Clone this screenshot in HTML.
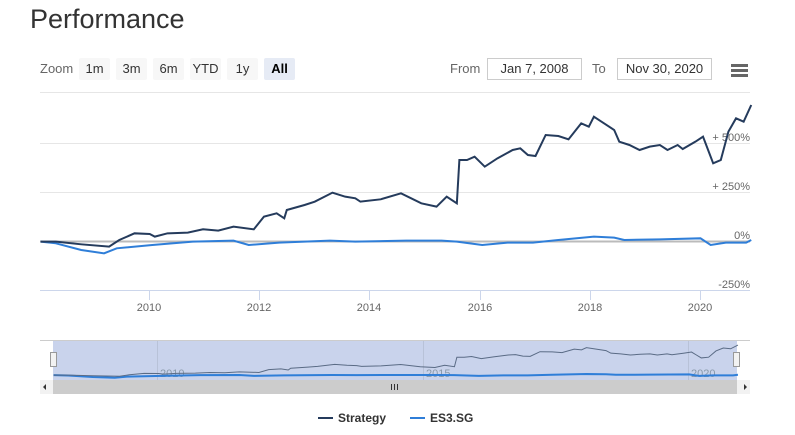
<!DOCTYPE html>
<html><head><meta charset="utf-8"><style>
body{margin:0;width:795px;height:435px;background:#fff;font-family:"Liberation Sans",sans-serif;overflow:hidden;position:relative}
.t{position:absolute;left:30px;top:4px;font-size:27px;color:#333}
.b{position:absolute;top:58px;height:22px;line-height:22px;font-size:13px;color:#333;background:#f7f7f7;text-align:center;border-radius:2px}
.lab{position:absolute;top:58px;line-height:22px;font-size:13px;color:#666}
.inp{position:absolute;top:58px;height:20px;line-height:20px;border:1px solid #ccc;font-size:13px;color:#333;text-align:center}
</style></head><body>
<div class="t">Performance</div>
<div class="lab" style="left:40px">Zoom</div>
<div class="b" style="left:79px;width:31px">1m</div>
<div class="b" style="left:116px;width:31px">3m</div>
<div class="b" style="left:153px;width:31px">6m</div>
<div class="b" style="left:190px;width:31px">YTD</div>
<div class="b" style="left:227px;width:31px">1y</div>
<div class="b" style="left:264px;width:31px;background:#e6ebf5;font-weight:bold;color:#000">All</div>
<div class="lab" style="left:450px">From</div>
<div class="inp" style="left:487px;width:93px">Jan 7, 2008</div>
<div class="lab" style="left:592px">To</div>
<div class="inp" style="left:617px;width:93px">Nov 30, 2020</div>
<svg width="795" height="435" style="position:absolute;left:0;top:0">
<g fill="#666"><rect x="731" y="64" width="17" height="3"/><rect x="731" y="69" width="17" height="3"/><rect x="731" y="74" width="17" height="3"/></g>
<g stroke="#e6e6e6" stroke-width="1">
<line x1="40" x2="750" y1="92.5" y2="92.5"/><line x1="40" x2="750" y1="143.5" y2="143.5"/><line x1="40" x2="750" y1="192.5" y2="192.5"/>
</g>
<line x1="40" x2="750" y1="241.5" y2="241.5" stroke="#bbb" stroke-width="2"/>
<line x1="40" x2="750" y1="290.5" y2="290.5" stroke="#ccd6eb"/>
<g stroke="#ccd6eb"><line x1="149.5" x2="149.5" y1="290" y2="300"/><line x1="259.5" x2="259.5" y1="290" y2="300"/><line x1="369.5" x2="369.5" y1="290" y2="300"/><line x1="480.5" x2="480.5" y1="290" y2="300"/><line x1="590.5" x2="590.5" y1="290" y2="300"/><line x1="700.5" x2="700.5" y1="290" y2="300"/></g>
<g font-size="11" fill="#666" text-anchor="middle"><text x="149" y="311">2010</text><text x="259" y="311">2012</text><text x="369" y="311">2014</text><text x="480" y="311">2016</text><text x="590" y="311">2018</text><text x="700" y="311">2020</text></g>
<g font-size="11" fill="#666" text-anchor="end"><text x="750" y="141">+ 500%</text><text x="750" y="190">+ 250%</text><text x="750" y="239">0%</text><text x="750" y="288">-250%</text></g>
<g transform="translate(0,50) scale(0.5076,0.3333)" fill="none">
<path stroke="#2f7ed8" stroke-width="2" vector-effect="non-scaling-stroke" d="M80,575 L110,580 160,600 205,610 230,595 300,585 380,575 460,572 490,585 550,578 650,572 700,575 800,572 870,572 900,575 950,585 1000,578 1050,578 1100,570 1170,560 1210,563 1230,570 1300,568 1380,565 1400,585 1430,578 1470,578 1480,570"/>
<path stroke="#253b5c" stroke-width="2" vector-effect="non-scaling-stroke" d="M80,575 L110,575 160,583 215,590 235,570 265,550 295,552 305,560 330,550 370,548 400,538 430,542 460,530 500,538 520,500 545,490 560,505 565,480 600,465 620,455 655,428 680,440 700,445 710,455 750,448 790,430 830,460 860,470 880,440 900,460 905,330 920,330 935,320 955,350 980,325 1010,300 1025,295 1040,315 1055,318 1075,255 1100,258 1120,268 1145,220 1160,230 1170,200 1185,215 1210,240 1220,275 1240,285 1260,300 1280,290 1300,285 1315,300 1335,285 1345,297 1370,275 1385,260 1395,300 1405,340 1420,330 1435,245 1450,205 1465,215 1480,165"/>
</g>
<line x1="40" x2="750" y1="340.5" y2="340.5" stroke="#ccc"/>
<rect x="53" y="341" width="684" height="39" fill="#c9d3ec"/>
<g stroke="#b8c2d8"><line x1="157.5" x2="157.5" y1="341" y2="380"/><line x1="423.5" x2="423.5" y1="341" y2="380"/><line x1="688.5" x2="688.5" y1="341" y2="380"/></g>
<g font-size="11" fill="#8899aa"><text x="160" y="377">2010</text><text x="426" y="377">2015</text><text x="691" y="377">2020</text></g>
<g transform="translate(14.5,322) scale(0.963,0.22)">
<g transform="translate(0,50) scale(0.5076,0.3333)" fill="none">
<path stroke="#2f7ed8" stroke-width="2" vector-effect="non-scaling-stroke" d="M80,575 L110,580 160,600 205,610 230,595 300,585 380,575 460,572 490,585 550,578 650,572 700,575 800,572 870,572 900,575 950,585 1000,578 1050,578 1100,570 1170,560 1210,563 1230,570 1300,568 1380,565 1400,585 1430,578 1470,578 1480,570"/>
<path stroke="#5a6b85" stroke-width="1" vector-effect="non-scaling-stroke" d="M80,575 L110,575 160,583 215,590 235,570 265,550 295,552 305,560 330,550 370,548 400,538 430,542 460,530 500,538 520,500 545,490 560,505 565,480 600,465 620,455 655,428 680,440 700,445 710,455 750,448 790,430 830,460 860,470 880,440 900,460 905,330 920,330 935,320 955,350 980,325 1010,300 1025,295 1040,315 1055,318 1075,255 1100,258 1120,268 1145,220 1160,230 1170,200 1185,215 1210,240 1220,275 1240,285 1260,300 1280,290 1300,285 1315,300 1335,285 1345,297 1370,275 1385,260 1395,300 1405,340 1420,330 1435,245 1450,205 1465,215 1480,165"/>
</g></g>
<g fill="#f2f2f2" stroke="#999"><rect x="50.5" y="352.5" width="6" height="14"/><rect x="733.5" y="352.5" width="6" height="14"/></g>
<rect x="40" y="380" width="710" height="14" fill="#f2f2f2"/>
<rect x="53" y="380" width="684" height="14" fill="#ccc"/>
<g stroke="#333"><line x1="391.5" x2="391.5" y1="384" y2="390"/><line x1="394.5" x2="394.5" y1="384" y2="390"/><line x1="397.5" x2="397.5" y1="384" y2="390"/></g>
<path d="M46,384 L43,387 46,390Z M744,384 L747,387 744,390Z" fill="#333"/>
<line x1="318" x2="333" y1="418" y2="418" stroke="#253b5c" stroke-width="2"/>
<text x="338" y="422" font-size="12" font-weight="bold" fill="#333">Strategy</text>
<line x1="410" x2="425" y1="418" y2="418" stroke="#2f7ed8" stroke-width="2"/>
<text x="430" y="422" font-size="12" font-weight="bold" fill="#333">ES3.SG</text>
</svg>
</body></html>
